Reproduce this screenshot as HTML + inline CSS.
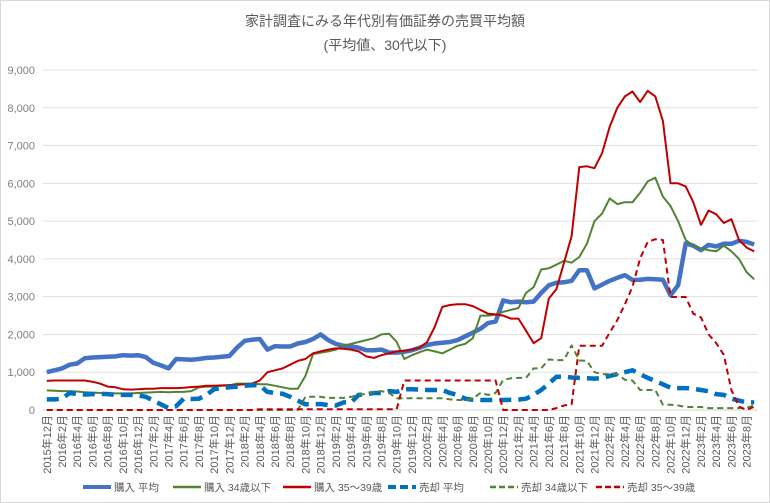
<!DOCTYPE html>
<html><head><meta charset="utf-8">
<style>
html,body{margin:0;padding:0;background:#fff;}
svg{display:block;font-family:"Liberation Sans","Noto Sans CJK JP",sans-serif;}
</style></head>
<body>
<svg id="chart" width="770" height="503" viewBox="0 0 770 503" xmlns="http://www.w3.org/2000/svg">
<rect x="0.5" y="0.5" width="769" height="502" fill="#fff" stroke="#d9d9d9"/>
<text x="385" y="26" text-anchor="middle" font-size="14" fill="#595959">家計調査にみる年代別有価証券の売買平均額</text>
<text x="385" y="50" text-anchor="middle" font-size="14" fill="#595959">(平均値、30代以下)</text>
<g id="grid"></g>
<g id="yaxis"></g>
<g id="xaxis"></g>
<g id="series"></g>
<g id="legend"></g>
</svg>
<script>
const yTicks = [0,1000,2000,3000,4000,5000,6000,7000,8000,9000];
const startYear = 2015, startMonth = 12, nPoints = 94;
const buyAvg = [1000,1050,1100,1200,1230,1370,1390,1400,1410,1420,
1450,1440,1450,1400,1250,1180,1100,1350,1340,1330,
1350,1380,1390,1410,1430,1650,1830,1860,1880,1600,
1690,1680,1680,1760,1800,1880,2000,1850,1750,1700,
1680,1650,1580,1580,1600,1520,1520,1540,1580,1650,
1720,1760,1780,1800,1850,1950,2050,2150,2300,2340,
2900,2850,2870,2850,2870,3100,3300,3370,3380,3420,
3700,3700,3220,3320,3420,3500,3570,3440,3450,3470,
3460,3450,3040,3300,4410,4350,4230,4370,4330,4400,
4400,4480,4450,4380];
const buyU34 = [520,510,500,500,490,470,460,450,450,440,
440,440,450,460,470,480,470,480,480,500,
600,620,620,640,650,700,700,700,680,680,
640,600,560,560,900,1480,1520,1550,1600,1700,
1750,1800,1850,1900,2000,2020,1800,1350,1450,1530,
1600,1550,1500,1600,1700,1750,1900,2500,2500,2520,
2600,2650,2700,3100,3250,3720,3750,3850,3950,3900,
4050,4400,5000,5200,5600,5450,5500,5500,5750,6050,
6150,5650,5400,5000,4500,4350,4280,4230,4200,4350,
4200,4000,3650,3460];
const buy3539 = [770,780,780,780,780,780,750,700,620,600,
550,540,550,560,560,580,580,580,590,610,
620,640,640,650,660,670,680,700,780,1000,
1050,1100,1200,1300,1350,1500,1550,1600,1630,1620,
1600,1550,1420,1380,1450,1500,1550,1570,1600,1650,
1800,2200,2730,2780,2800,2800,2750,2650,2550,2530,
2500,2420,2420,2100,1770,1900,2950,3200,3900,4600,
6430,6450,6400,6800,7500,8000,8300,8430,8150,8450,
8300,7650,6000,6000,5920,5500,4900,5280,5180,4950,
5050,4500,4300,4200];
const sellAvg = [280,280,300,450,420,410,420,430,420,400,
400,400,390,350,250,150,50,100,300,290,
300,400,550,580,600,620,640,660,650,480,
450,430,350,250,150,150,160,130,120,200,
200,400,420,450,450,500,480,550,550,540,
530,530,530,450,400,300,270,265,265,265,
265,270,275,300,400,530,700,880,880,860,
850,840,830,850,900,950,1000,1050,950,850,
770,680,590,580,580,560,530,495,420,400,
300,250,200,200];
const sellU34 = [0,0,0,0,0,0,0,0,0,0,
0,0,0,0,0,0,0,0,0,0,
0,0,0,0,0,0,0,0,0,0,
0,0,0,0,350,350,350,320,320,320,
350,400,430,480,500,450,310,310,310,310,
310,310,310,280,265,265,300,450,400,450,
800,840,850,850,1100,1100,1340,1320,1320,1710,
1310,1300,1000,950,950,950,800,780,530,530,
530,140,140,120,80,80,80,50,50,50,
50,50,60,120];
const sell3539 = [0,0,0,0,0,0,0,0,0,0,
0,0,0,0,0,0,0,0,0,0,
0,0,0,0,0,0,0,0,20,20,
20,20,20,20,20,20,20,20,20,20,
20,20,20,20,20,20,20,780,780,780,
780,780,780,780,780,780,780,780,780,780,
0,0,0,0,0,0,0,50,120,150,
1700,1700,1700,1700,2050,2380,2800,3260,4010,4450,
4520,4500,2990,2990,2990,2550,2450,2000,1770,1460,
530,90,0,90];
const seriesNames = ["購入 平均","購入 34歳以下","購入 35～39歳","売却 平均","売却 34歳以下","売却 35～39歳"];

const NS = "http://www.w3.org/2000/svg";
const plotL = 43, plotR = 758, plotT = 70, plotB = 410, yMax = 9000;
const step = (plotR - plotL) / nPoints;
function xPos(i){ return plotL + step * (i + 0.5); }
function yPos(v){ return plotB - (v / yMax) * (plotB - plotT); }
function mk(tag, attrs, parent){ const e = document.createElementNS(NS, tag); for (const k in attrs) e.setAttribute(k, attrs[k]); parent.appendChild(e); return e; }

const grid = document.getElementById('grid');
const yaxis = document.getElementById('yaxis');
yTicks.forEach(t => {
  const g = mk('line', {x1:plotL, x2:plotR, y1:yPos(t), y2:yPos(t), stroke: t===0 ? '#d0d0d0' : '#e0e0e0', 'stroke-width':1}, grid);
  
  
  const lb = mk('text', {x:35, y:yPos(t)+4, 'text-anchor':'end', 'font-size':11, fill:'#7f7f7f'}, yaxis);
  lb.textContent = t.toLocaleString('en-US');
  
  
});

const xaxis = document.getElementById('xaxis');
for (let i = 0; i < nPoints; i += 2) {
  const m0 = startMonth - 1 + i;
  const yr = startYear + Math.floor(m0 / 12), mo = (m0 % 12) + 1;
  const x = xPos(i);
  const t = mk('text', {transform:`translate(${x+4},415) rotate(-90)`, 'text-anchor':'end', 'font-size':11, fill:'#595959'}, xaxis);
  t.textContent = yr + '年' + mo + '月';
  
  
}

const styles = [
  {data:buyAvg, color:'#4472c4', w:4.5, dash:null, name:'line-buy-average'},
  {data:buyU34, color:'#548235', w:2, dash:null, name:'line-buy-under34'},
  {data:buy3539, color:'#c00000', w:2, dash:null, name:'line-buy-35-39'},
  {data:sellAvg, color:'#0070c0', w:4.5, dash:'12,7', name:'line-sell-average'},
  {data:sellU34, color:'#548235', w:2, dash:'6,4', name:'line-sell-under34'},
  {data:sell3539, color:'#c00000', w:2, dash:'6,4', name:'line-sell-35-39'}
];
const sg = document.getElementById('series');
styles.forEach(s => {
  const d = s.data.map((v,i) => (i ? 'L' : 'M') + xPos(i).toFixed(1) + ',' + yPos(v).toFixed(1)).join('');
  const attrs = {d:d, fill:'none', stroke:s.color, 'stroke-width':s.w, 'stroke-linejoin':'round'};
  if (s.dash) attrs['stroke-dasharray'] = s.dash;
  const p = mk('path', attrs, sg);
  
  
});

const lg = document.getElementById('legend');
const legX = [83, 173, 283, 388, 490, 596];
styles.forEach((s, k) => {
  const attrs = {x1:legX[k], x2:legX[k]+28, y1:487, y2:487, stroke:s.color, 'stroke-width': s.w > 3 ? 4 : 2.5};
  if (s.dash) attrs['stroke-dasharray'] = s.w > 3 ? '8,4' : '6,3';
  const l = mk('line', attrs, lg);
  
  
  const t = mk('text', {x:legX[k]+31, y:491, 'font-size':10.5, fill:'#595959'}, lg);
  t.textContent = seriesNames[k];
  
  
});
</script>
</body></html>
